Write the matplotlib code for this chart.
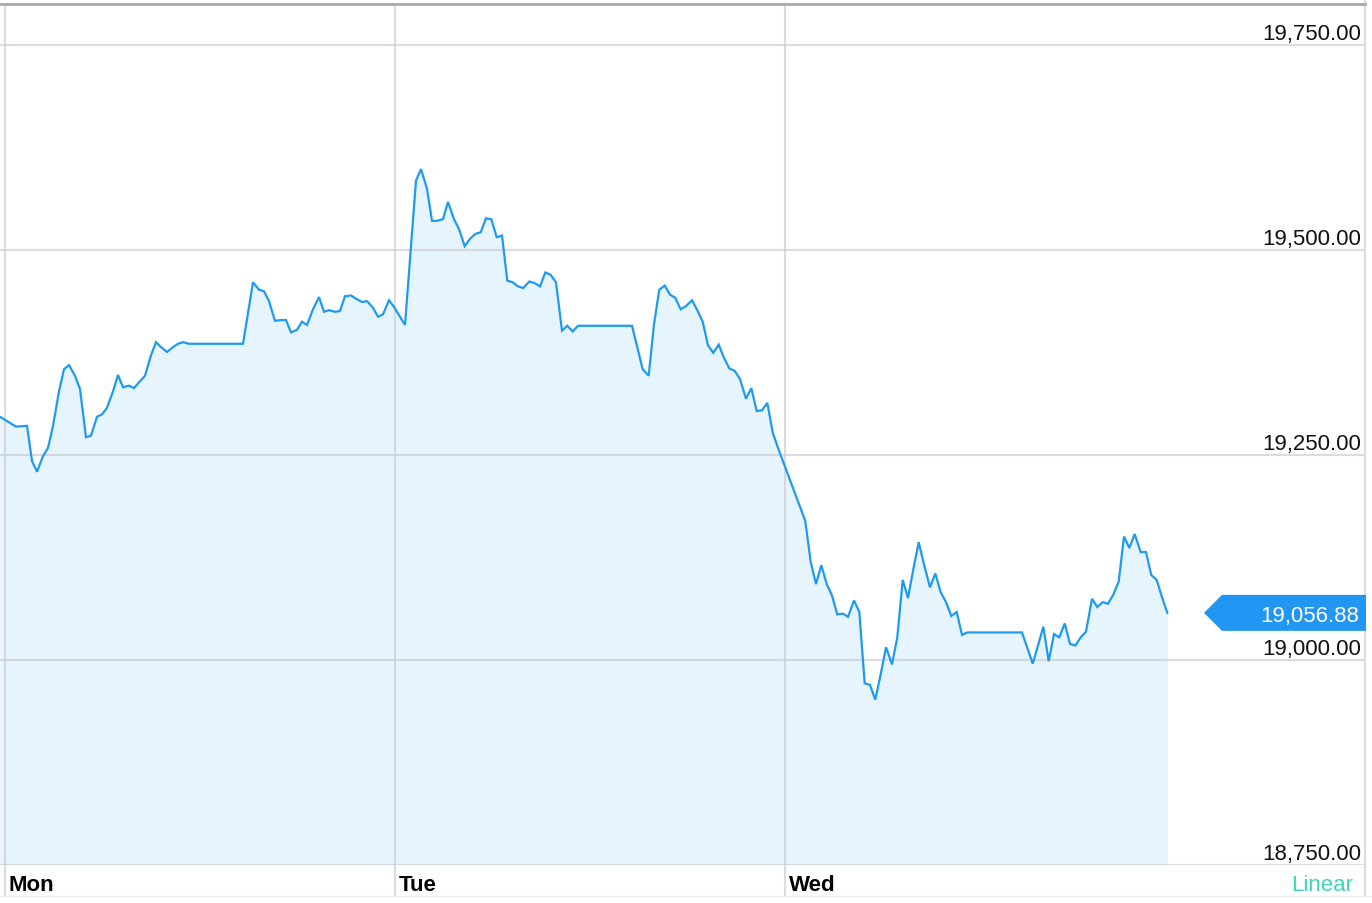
import matplotlib
matplotlib.use("Agg")
import matplotlib.pyplot as plt
from matplotlib.patches import Polygon
from matplotlib.transforms import IdentityTransform

# ---------------- data ----------------
# minutes of trading time since Monday open (390 minutes per session)
minutes = [
    -5, 11, 22, 27, 32, 38, 43, 48, 54, 59, 64, 70, 75, 81, 86, 92, 97, 102, 108, 113,
    118, 124, 129, 134, 140, 146, 151, 156, 162, 168, 173, 178, 184, 238, 248, 254, 259, 264,
    270, 276, 281, 286, 292, 297, 302, 308, 314, 319, 324, 330, 335, 340, 346, 351, 357,
    362, 368, 373, 378, 384, 389, 400,
    411, 416, 422, 427, 432, 438, 443, 449, 454.3, 459.7, 465, 470.3, 475.7, 481, 486.3,
    491.7, 497, 502.3, 507.7, 513, 518.3, 524.3, 529.7, 535, 540.3, 545.7, 551, 557,
    562.3, 567.7, 573, 627, 632.3, 637.7, 643.7, 649, 654.3, 659.7, 665, 670.3, 675.7,
    681, 687, 692.3, 697.7, 703, 708.3, 713.7, 719, 724.3, 729.7, 735, 741, 746.3,
    751.7, 757, 762.3, 767.7, 773,
    800.3, 805.7, 811, 816.3, 821.7, 827, 832.3, 837.7, 843, 849, 854.3, 859.7, 865,
    870.3, 875.7, 881, 887, 892.3, 897.7, 903, 908.3, 913.7, 919, 925, 930.3, 935.7,
    941, 946.3, 951.7, 957, 962.3, 1017, 1022.3, 1027.7, 1033, 1038.3, 1043.7, 1049,
    1054.3, 1059.7, 1065, 1070.3, 1075.7, 1081, 1087, 1092.3, 1097.7, 1103, 1108.3,
    1113.7, 1119, 1124.3, 1129.7, 1135.7, 1141, 1146.3, 1151.7, 1157, 1162.3,
]
values = [
    19296, 19284, 19285, 19242, 19229, 19248, 19258, 19285, 19327, 19354, 19359, 19346,
    19330, 19271, 19273, 19296, 19299, 19307, 19327, 19347, 19332, 19334, 19331, 19338,
    19346, 19371, 19387, 19381, 19375, 19381, 19385, 19387, 19385, 19385, 19460, 19451,
    19449, 19437, 19413, 19414, 19414, 19399, 19402, 19412, 19408, 19427, 19442, 19424,
    19426, 19424, 19425, 19443, 19444, 19440, 19436, 19437, 19429, 19418, 19421, 19438,
    19430, 19408,
    19584, 19598, 19574, 19535, 19535, 19537, 19558, 19537, 19524, 19504, 19513, 19519,
    19521, 19538, 19537, 19515, 19517, 19462, 19460, 19455, 19453, 19461, 19459, 19455,
    19472, 19469, 19460, 19401, 19407, 19400, 19407, 19407, 19381, 19354, 19346, 19409,
    19451, 19456, 19445, 19441, 19427, 19431, 19438, 19426, 19412, 19383, 19374, 19384,
    19368, 19355, 19352, 19342, 19318, 19331, 19303, 19304, 19313, 19277, 19258,
    19169, 19119, 19092, 19115, 19092, 19078, 19055, 19056, 19052, 19072, 19058, 18971,
    18969, 18951, 18982, 19015, 18994, 19027, 19097, 19075, 19110, 19143, 19116, 19088,
    19105, 19082, 19070, 19053, 19058, 19030, 19033, 19033, 19014, 18995, 19017, 19040,
    18998, 19031, 19027, 19044, 19019, 19017, 19027, 19034, 19074, 19064, 19070, 19068,
    19079, 19095, 19150, 19136, 19153, 19131, 19131, 19103, 19097, 19076, 19056.88,
]
day_labels = ["Mon", "Tue", "Wed"]
day_starts = [0, 390, 780]
y_ticks = [18750, 19000, 19250, 19500, 19750]
last_label = "19,056.88"
scale_label = "Linear"

# ---------------- style ----------------
LINE = "#1e9bf0"
FILL = "#e6f4fd"
GRID = "#dcdce2"
BORDER = "#a9a9b1"
BADGE = "#2196f3"
FONT = "Liberation Sans"
FS = 16

W, H = 1372, 904
fig = plt.figure(figsize=(W / 100, H / 100), dpi=100)
fig.patch.set_facecolor("white")

ax_left, ax_right = 0, 1365
ax_top, ax_bottom = 5, 865.5
ax = fig.add_axes([ax_left / W, (H - ax_bottom) / H,
                   (ax_right - ax_left) / W, (ax_bottom - ax_top) / H])
ax.set_xlim(-5, 1360)
ax.set_ylim(18750, 19799.4)
ax.set_facecolor("none")
for s in ax.spines.values():
    s.set_visible(False)
ax.set_xticks([])
ax.set_yticks([])

# fill and line
ax.fill_between(minutes, values, 18750, color=FILL, lw=0, zorder=1)
ax.plot(minutes, values, color=LINE, lw=1.6, zorder=4, solid_joinstyle="miter")

# horizontal gridlines (drawn over the fill, semi-transparent)
for v in y_ticks:
    ax.axhline(v, color="#c9c9d1", alpha=0.65, lw=1.5, zorder=2)

# vertical day lines (extend beyond axes bottom)
xt = ax.get_xaxis_transform()
for d in day_starts:
    ax.plot([d, d], [-0.035, 1], transform=xt, color="#c9c9d1", alpha=0.65, lw=1.5,
            zorder=3, clip_on=False)
# right edge line
ax.plot([1, 1], [-0.035, 1.006], transform=ax.transAxes, color=GRID, lw=1.5,
        clip_on=False, zorder=3)
# top border
ax.plot([0, 1], [1, 1], transform=ax.transAxes, color=BORDER, lw=2,
        clip_on=False, zorder=5)
# bottom faint line
fig.add_artist(plt.Line2D([0, 1], [1 - 897 / H, 1 - 897 / H], transform=fig.transFigure,
                          color="#ececf0", lw=1))

# y labels
yt = ax.get_yaxis_transform()
for v in y_ticks:
    ax.annotate(f"{v:,.2f}", xy=(1361 / 1365, v), xycoords=yt,
                xytext=(0, 5.5), textcoords="offset pixels",
                ha="right", va="baseline", fontsize=FS, family=FONT,
                color="#111111", zorder=6)

# day labels
for lab, d in zip(day_labels, day_starts):
    ax.annotate(lab, xy=(d, 0), xycoords=xt, xytext=(4, -26), textcoords="offset pixels",
                ha="left", va="baseline", fontsize=FS, fontweight="bold",
                family=FONT, color="#000000")

ax.annotate(scale_label, xy=(1, 0), xycoords="axes fraction", xytext=(-12, -26),
            textcoords="offset pixels", ha="right", va="baseline", fontsize=FS,
            family=FONT, color="#3dd6b4")

# last value badge
fig.canvas.draw()
cy = ax.transData.transform((0, values[-1]))[1]
x_tip, x_body, x_end, half = 1204, 1222, 1366, 18
poly = Polygon([(x_tip, cy), (x_body, cy + half), (x_end, cy + half),
                (x_end, cy - half), (x_body, cy - half)], closed=True,
               transform=IdentityTransform(), facecolor=BADGE, edgecolor="none",
               zorder=7)
fig.add_artist(poly)
fig.text(1359 / W, cy / H, last_label, ha="right", va="center_baseline",
         fontsize=FS, family=FONT, color="white", zorder=8)

fig.savefig("out.png", dpi=100, facecolor="white")
